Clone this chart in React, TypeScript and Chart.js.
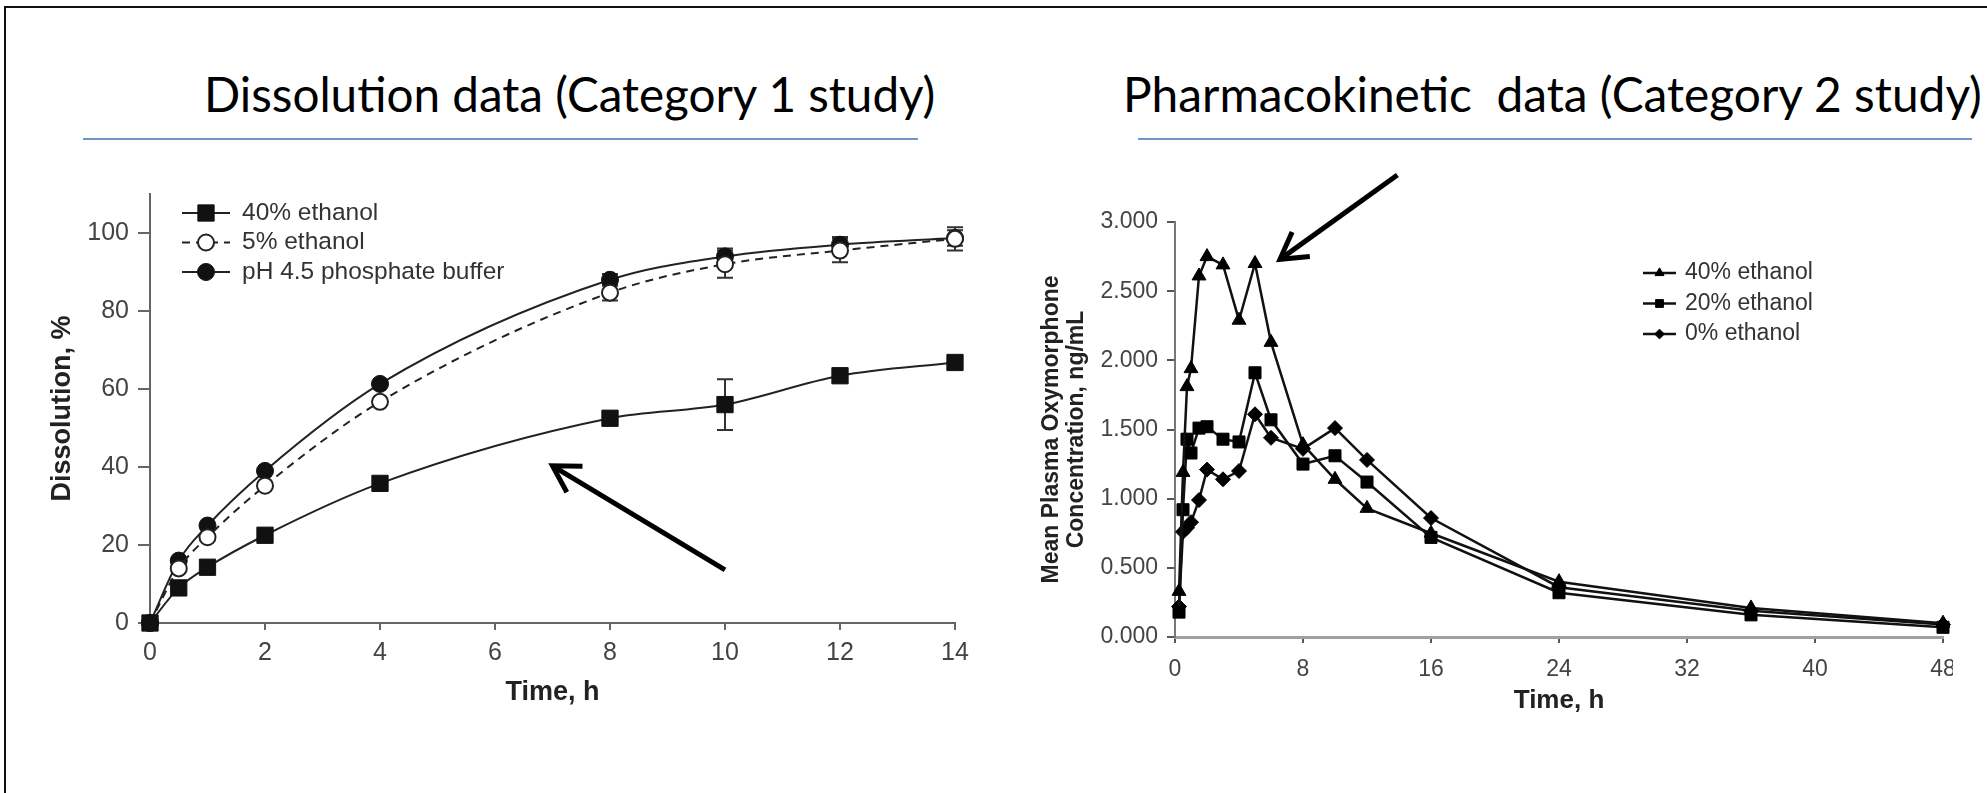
import React, { useEffect, useLayoutEffect, useRef, useState } from "react";
import { Chart, registerables } from "chart.js";
import { drawPoint } from "chart.js/helpers";

Chart.register(...registerables);

const FONT = "'Liberation Sans', Arial, Helvetica, sans-serif";

// ---------- Dissolution data (Category 1 study) ----------
const dissolutionTimes = [0, 0.5, 1, 2, 4, 8, 10, 12, 14];
const dissolution40 = [0, 9, 14.3, 22.5, 35.8, 52.5, 56, 63.4, 66.8];
const dissolution40Err = [0, 0, 0, 0, 0, 0, 6.5, 0, 0];
const dissolution5 = [0, 14, 22, 35.2, 56.7, 84.7, 92, 95.5, 98.5];
const dissolution5Err = [0, 0, 0, 0, 0, 2, 3.5, 3, 3];
const dissolutionBuffer = [0, 16, 25, 39, 61.3, 88, 94, 97, 98.7];
const dissolutionBufferErr = [0, 0, 0, 0, 0, 1.5, 2, 2, 2];
const dissolutionLabels = ["40% ethanol", "5% ethanol", "pH 4.5 phosphate buffer"];
const dissolutionArrow = { from: [10, 13.6], to: [7, 40.3] };

// ---------- Pharmacokinetic data (Category 2 study) ----------
const pkTimes = [0.25, 0.5, 0.75, 1, 1.5, 2, 3, 4, 5, 6, 8, 10, 12, 16, 24, 36, 48];
const pk40 = [0.33, 1.19, 1.81, 1.94, 2.61, 2.75, 2.69, 2.29, 2.7, 2.13, 1.39, 1.14, 0.93, 0.75, 0.4, 0.21, 0.1];
const pk20 = [0.18, 0.92, 1.43, 1.33, 1.51, 1.52, 1.43, 1.41, 1.91, 1.57, 1.25, 1.31, 1.12, 0.72, 0.32, 0.16, 0.07];
const pk0 = [0.22, 0.76, 0.79, 0.83, 0.99, 1.21, 1.14, 1.2, 1.61, 1.44, 1.36, 1.51, 1.28, 0.86, 0.36, 0.19, 0.09];
const pkLabels = ["40% ethanol", "20% ethanol", "0% ethanol"];
const pkArrow = { from: [13.9, 3.34], to: [6.56, 2.73] };

const toPoints = (xs: number[], ys: number[]) => xs.map((x, i) => ({ x, y: ys[i] }));

function makeLegendPlugin(o: any) {
  return {
    id: "customLegend",
    afterDraw(chart: any) {
      const { ctx, chartArea } = chart;
      ctx.save();
      ctx.font = `${o.fontSize}px ${FONT}`;
      ctx.textBaseline = "middle";
      ctx.textAlign = "left";
      chart.data.datasets.forEach((ds: any, i: number) => {
        const y = chartArea.top + o.offsetY + i * o.rowGap;
        const x = chartArea.left + o.offsetX;
        ctx.strokeStyle = ds.borderColor;
        ctx.lineWidth = ds.borderWidth;
        ctx.setLineDash(ds.borderDash || []);
        ctx.beginPath();
        ctx.moveTo(x, y);
        ctx.lineTo(x + o.sampleWidth, y);
        ctx.stroke();
        ctx.setLineDash([]);
        ctx.fillStyle = ds.pointBackgroundColor;
        ctx.strokeStyle = ds.pointBorderColor;
        ctx.lineWidth = ds.pointBorderWidth;
        drawPoint(
          ctx,
          { pointStyle: ds.pointStyle, radius: ds.pointRadius * o.markerScale, rotation: 0, borderWidth: ds.pointBorderWidth } as any,
          x + o.sampleWidth / 2,
          y
        );
        ctx.fillStyle = o.color;
        ctx.fillText(ds.label, x + o.sampleWidth + o.textGap, y);
      });
      ctx.restore();
    },
  };
}

const errorBarPlugin = {
  id: "errorBars",
  beforeDatasetsDraw(chart: any) {
    const { ctx } = chart;
    const yScale = chart.scales.y;
    chart.data.datasets.forEach((ds: any, i: number) => {
      if (!ds.errors) return;
      const meta = chart.getDatasetMeta(i);
      meta.data.forEach((pt: any, j: number) => {
        const e = ds.errors[j];
        if (!e) return;
        const v = ds.data[j].y;
        const yt = yScale.getPixelForValue(v + e);
        const yb = yScale.getPixelForValue(v - e);
        ctx.save();
        ctx.strokeStyle = "#333";
        ctx.lineWidth = 2;
        ctx.beginPath();
        ctx.moveTo(pt.x, yt);
        ctx.lineTo(pt.x, yb);
        ctx.moveTo(pt.x - 8, yt);
        ctx.lineTo(pt.x + 8, yt);
        ctx.moveTo(pt.x - 8, yb);
        ctx.lineTo(pt.x + 8, yb);
        ctx.stroke();
        ctx.restore();
      });
    });
  },
};

function makeArrowPlugin(arrow: { from: number[]; to: number[] }, width: number, headLen: number) {
  return {
    id: "arrowAnnotation",
    afterDraw(chart: any) {
      const { ctx } = chart;
      const xs = chart.scales.x;
      const ys = chart.scales.y;
      const x1 = xs.getPixelForValue(arrow.from[0]);
      const y1 = ys.getPixelForValue(arrow.from[1]);
      const x2 = xs.getPixelForValue(arrow.to[0]);
      const y2 = ys.getPixelForValue(arrow.to[1]);
      const ang = Math.atan2(y1 - y2, x1 - x2);
      ctx.save();
      ctx.strokeStyle = "#000";
      ctx.lineWidth = width;
      ctx.lineCap = "butt";
      ctx.lineJoin = "miter";
      ctx.beginPath();
      ctx.moveTo(x1, y1);
      ctx.lineTo(x2, y2);
      ctx.stroke();
      ctx.beginPath();
      ctx.moveTo(x2 + headLen * Math.cos(ang + 0.53), y2 + headLen * Math.sin(ang + 0.53));
      ctx.lineTo(x2, y2);
      ctx.lineTo(x2 + headLen * Math.cos(ang - 0.53), y2 + headLen * Math.sin(ang - 0.53));
      ctx.stroke();
      ctx.restore();
    },
  };
}

function dissolutionConfig(): any {
  const base = { borderColor: "#222", borderWidth: 2, cubicInterpolationMode: "monotone", clip: false, pointBorderWidth: 2 };
  return {
    type: "line",
    data: {
      datasets: [
        {
          ...base,
          label: dissolutionLabels[0],
          data: toPoints(dissolutionTimes, dissolution40),
          errors: dissolution40Err,
          pointStyle: "rect",
          pointRadius: 11.5,
          pointBackgroundColor: "#111",
          pointBorderColor: "#111",
          pointBorderWidth: 1,
        },
        {
          ...base,
          label: dissolutionLabels[1],
          data: toPoints(dissolutionTimes, dissolution5),
          errors: dissolution5Err,
          borderDash: [8, 6],
          pointStyle: "circle",
          pointRadius: 8,
          pointBackgroundColor: "#fff",
          pointBorderColor: "#222",
        },
        {
          ...base,
          label: dissolutionLabels[2],
          data: toPoints(dissolutionTimes, dissolutionBuffer),
          errors: dissolutionBufferErr,
          pointStyle: "circle",
          pointRadius: 8.5,
          pointBackgroundColor: "#111",
          pointBorderColor: "#111",
          pointBorderWidth: 1,
        },
      ],
    },
    options: {
      animation: false,
      responsive: false,
      devicePixelRatio: 1,
      events: [],
      layout: { padding: { left: 40, right: 45, top: 44, bottom: 27 } },
      plugins: { legend: { display: false }, tooltip: { enabled: false } },
      scales: {
        x: {
          type: "linear",
          min: 0,
          max: 14,
          ticks: { stepSize: 2, font: { family: FONT, size: 25 }, color: "#444", padding: 8, maxRotation: 0, autoSkip: false },
          grid: { drawOnChartArea: false, color: "#666", lineWidth: 2, tickLength: 7 },
          border: { display: true, color: "#666", width: 2 },
          title: { display: true, text: "Time, h", font: { family: FONT, size: 27, weight: "bold" }, color: "#222", padding: { top: 0, bottom: 14 } },
          afterFit(s: any) {
            s.height = 100;
            s.paddingLeft = 0;
            s.paddingRight = 0;
          },
        },
        y: {
          type: "linear",
          min: 0,
          max: 110,
          ticks: { stepSize: 20, includeBounds: false, font: { family: FONT, size: 25 }, color: "#444", padding: 9 },
          grid: { drawOnChartArea: false, color: "#666", lineWidth: 2, tickLength: 12 },
          border: { display: true, color: "#666", width: 2 },
          title: { display: true, text: "Dissolution, %", font: { family: FONT, size: 27, weight: "bold" }, color: "#222", padding: { top: 6, bottom: 0 } },
          afterFit(s: any) {
            s.width = 110;
            s.paddingTop = 0;
            s.paddingBottom = 0;
          },
        },
      },
    },
    plugins: [
      errorBarPlugin,
      makeArrowPlugin(dissolutionArrow, 5, 30),
      makeLegendPlugin({ offsetX: 32, offsetY: 19, rowGap: 29.5, sampleWidth: 48, textGap: 12, fontSize: 24.5, markerScale: 1, color: "#333" }),
    ],
  };
}

function pkConfig(): any {
  const base = { borderColor: "#111", borderWidth: 2.5, tension: 0, clip: false, pointBackgroundColor: "#000", pointBorderColor: "#000", pointBorderWidth: 1 };
  return {
    type: "line",
    data: {
      datasets: [
        { ...base, label: pkLabels[0], data: toPoints(pkTimes, pk40), pointStyle: "triangle", pointRadius: 8 },
        { ...base, label: pkLabels[1], data: toPoints(pkTimes, pk20), pointStyle: "rect", pointRadius: 8.5 },
        { ...base, label: pkLabels[2], data: toPoints(pkTimes, pk0), pointStyle: "rectRot", pointRadius: 7.5 },
      ],
    },
    options: {
      animation: false,
      responsive: false,
      devicePixelRatio: 1,
      events: [],
      layout: { padding: { left: 35, right: 10, top: 72, bottom: 13 } },
      plugins: { legend: { display: false }, tooltip: { enabled: false } },
      scales: {
        x: {
          type: "linear",
          min: 0,
          max: 48,
          ticks: { stepSize: 8, font: { family: FONT, size: 23 }, color: "#444", padding: 13, maxRotation: 0, autoSkip: false },
          grid: { drawOnChartArea: false, color: "#555", lineWidth: 2, tickLength: 6 },
          border: { display: true, color: "#a0a0a0", width: 3 },
          title: { display: true, text: "Time, h", font: { family: FONT, size: 26, weight: "bold" }, color: "#222", padding: { top: 0, bottom: 21 } },
          afterFit(s: any) {
            s.height = 100;
            s.paddingLeft = 0;
            s.paddingRight = 0;
          },
        },
        y: {
          type: "linear",
          min: 0,
          max: 3,
          ticks: {
            stepSize: 0.5,
            font: { family: FONT, size: 23 },
            color: "#444",
            padding: 9,
            callback: (v: any) => Number(v).toFixed(3),
          },
          grid: { drawOnChartArea: false, color: "#555", lineWidth: 2, tickLength: 8 },
          border: { display: true, color: "#777", width: 2 },
          title: {
            display: true,
            text: ["Mean Plasma Oxymorphone", "Concentration, ng/mL"],
            font: { family: FONT, size: 23, weight: "bold", lineHeight: 1.1 },
            color: "#222",
            padding: { top: 4, bottom: 0 },
          },
          afterFit(s: any) {
            s.width = 140;
            s.paddingTop = 0;
            s.paddingBottom = 0;
          },
        },
      },
    },
    plugins: [
      makeArrowPlugin(pkArrow, 5, 30),
      makeLegendPlugin({ offsetX: 468, offsetY: 51, rowGap: 30.5, sampleWidth: 33, textGap: 9, fontSize: 23, markerScale: 0.65, color: "#333" }),
    ],
  };
}

function ChartBox({ build, left, top, width, height }: any) {
  const ref = useRef<HTMLCanvasElement>(null);
  useEffect(() => {
    const chart = new Chart(ref.current as HTMLCanvasElement, build());
    return () => chart.destroy();
  }, []);
  return (
    <canvas
      ref={ref}
      width={width}
      height={height}
      style={{ position: "absolute", left, top, width, height }}
    />
  );
}

function FitTitle({ text, left, width, top }: any) {
  const ref = useRef<HTMLSpanElement>(null);
  const [scale, setScale] = useState(1);
  useLayoutEffect(() => {
    if (ref.current) {
      const w = ref.current.offsetWidth;
      if (w > 0) setScale(width / w);
    }
  }, []);
  return (
    <span
      ref={ref}
      style={{
        position: "absolute",
        left,
        top,
        fontFamily: "Lato, 'Open Sans', sans-serif",
        fontSize: 48,
        lineHeight: 1,
        whiteSpace: "pre",
        color: "#000",
        transformOrigin: "0 0",
        transform: `scaleX(${scale})`,
      }}
    >
      {text}
    </span>
  );
}

export default function App() {
  return (
    <div style={{ position: "absolute", left: 0, top: 0, width: 1987, height: 793, background: "#fff", overflow: "hidden" }}>
      <div style={{ position: "absolute", left: 4, top: 6, width: 1983, height: 2, background: "#111" }} />
      <div style={{ position: "absolute", left: 4, top: 6, width: 2, height: 787, background: "#111" }} />
      <FitTitle text="Dissolution data (Category 1 study)" left={204} top={70} width={731} />
      <div style={{ position: "absolute", left: 83, top: 138, width: 835, height: 2, background: "#6f96c8" }} />
      <FitTitle text="Pharmacokinetic  data (Category 2 study)" left={1123} top={70} width={859} />
      <div style={{ position: "absolute", left: 1138, top: 138, width: 834, height: 2, background: "#6f96c8" }} />
      <ChartBox build={dissolutionConfig} left={0} top={150} width={1000} height={600} />
      <ChartBox build={pkConfig} left={1000} top={150} width={953} height={600} />
    </div>
  );
}
